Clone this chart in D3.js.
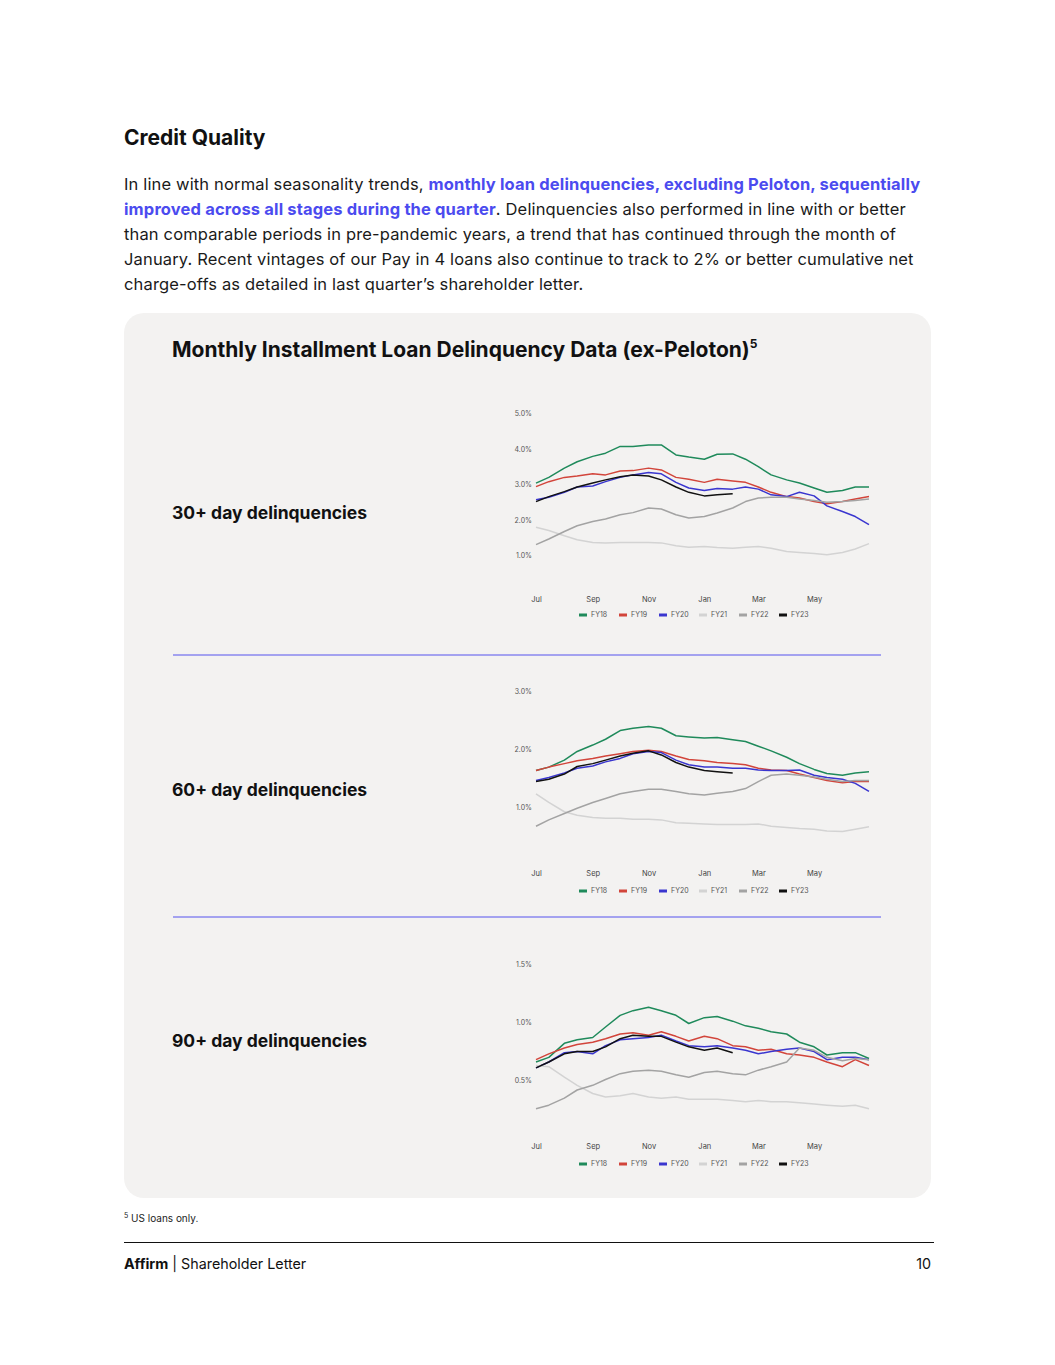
<!DOCTYPE html>
<html>
<head>
<meta charset="utf-8">
<script src="https://cdn.jsdelivr.net/npm/d3@7"></script>
<style>
  body { margin: 0; background: #fff; }
  svg text { font-family: Inter, "Noto Sans", sans-serif; }
</style>
</head>
<body>
<div id="page"></div>
<script>
/** Data (semi-monthly) **/
const dates = ['2021-07-01','2021-07-15','2021-08-01','2021-08-15','2021-09-01','2021-09-15',
               '2021-10-01','2021-10-15','2021-11-01','2021-11-15','2021-12-01','2021-12-15',
               '2022-01-01','2022-01-15','2022-02-01','2022-02-15','2022-03-01','2022-03-15',
               '2022-04-01','2022-04-15','2022-05-01','2022-05-15','2022-06-01','2022-06-15','2022-06-30'];

const seriesNames  = ['FY18', 'FY19', 'FY20', 'FY21', 'FY22', 'FY23'];
const seriesColors = ['#1f8a5b', '#d2453b', '#3a36cf', '#d3d3d3', '#a3a3a3', '#111111'];

// 30+ day delinquencies (%)
const d30_FY18 = [3.04,3.20,3.46,3.64,3.79,3.88,4.07,4.07,4.11,4.11,3.83,3.77,3.71,3.85,3.86,3.71,3.50,3.27,3.13,3.04,2.90,2.78,2.83,2.93,2.93];
const d30_FY19 = [2.94,3.08,3.20,3.24,3.30,3.27,3.38,3.39,3.46,3.41,3.20,3.15,3.06,3.15,3.10,3.06,2.93,2.78,2.66,2.62,2.52,2.46,2.52,2.59,2.66];
const d30_FY20 = [2.57,2.64,2.78,2.93,2.96,3.08,3.20,3.27,3.34,3.30,3.06,2.90,2.83,2.89,2.87,2.93,2.87,2.71,2.66,2.78,2.68,2.40,2.24,2.10,1.87];
const d30_FY21 = [1.80,1.71,1.56,1.45,1.37,1.36,1.37,1.37,1.37,1.36,1.28,1.24,1.26,1.23,1.21,1.24,1.26,1.21,1.12,1.09,1.06,1.03,1.09,1.19,1.34];
const d30_FY22 = [1.31,1.47,1.68,1.84,1.96,2.03,2.15,2.21,2.34,2.31,2.15,2.06,2.10,2.20,2.34,2.52,2.62,2.64,2.64,2.59,2.55,2.50,2.52,2.55,2.59];
const d30_FY23 = [2.52,2.66,2.80,2.93,3.04,3.13,3.22,3.27,3.24,3.13,2.93,2.78,2.68,2.71,2.74];

// 60+ day delinquencies (%)
const d60_FY18 = [1.64,1.70,1.82,1.97,2.08,2.18,2.33,2.37,2.40,2.37,2.24,2.22,2.20,2.21,2.17,2.14,2.06,1.98,1.87,1.76,1.66,1.59,1.56,1.60,1.62];
const d60_FY19 = [1.64,1.70,1.76,1.81,1.85,1.89,1.93,1.97,1.99,1.97,1.89,1.83,1.81,1.78,1.76,1.74,1.68,1.65,1.64,1.58,1.52,1.47,1.43,1.45,1.45];
const d60_FY20 = [1.47,1.52,1.60,1.68,1.72,1.79,1.85,1.93,1.97,1.95,1.82,1.74,1.70,1.70,1.68,1.68,1.65,1.64,1.64,1.65,1.56,1.52,1.49,1.42,1.28];
const d60_FY21 = [1.24,1.09,0.93,0.87,0.83,0.82,0.82,0.80,0.80,0.79,0.74,0.73,0.72,0.71,0.71,0.71,0.72,0.68,0.66,0.64,0.63,0.60,0.59,0.63,0.67];
const d60_FY22 = [0.68,0.79,0.90,0.99,1.09,1.16,1.24,1.28,1.32,1.32,1.28,1.24,1.22,1.25,1.28,1.33,1.45,1.56,1.58,1.56,1.53,1.49,1.45,1.47,1.47];
const d60_FY23 = [1.45,1.49,1.58,1.71,1.76,1.82,1.89,1.94,1.98,1.91,1.78,1.70,1.64,1.62,1.60];

// 90+ day delinquencies (%)
const d90_FY18 = [0.66,0.70,0.82,0.85,0.87,0.96,1.06,1.10,1.13,1.10,1.06,0.99,1.04,1.05,1.01,0.97,0.95,0.92,0.90,0.83,0.79,0.72,0.74,0.74,0.69];
const d90_FY19 = [0.68,0.73,0.78,0.81,0.83,0.86,0.90,0.91,0.89,0.92,0.88,0.84,0.88,0.86,0.80,0.79,0.76,0.77,0.73,0.72,0.70,0.66,0.62,0.68,0.63];
const d90_FY20 = [0.61,0.66,0.74,0.75,0.73,0.80,0.85,0.86,0.87,0.89,0.84,0.80,0.79,0.80,0.78,0.76,0.73,0.75,0.77,0.78,0.75,0.68,0.70,0.70,0.68];
const d90_FY21 = [0.63,0.62,0.53,0.46,0.39,0.36,0.37,0.39,0.36,0.35,0.36,0.34,0.34,0.34,0.33,0.32,0.33,0.32,0.32,0.31,0.30,0.29,0.28,0.29,0.26];
const d90_FY22 = [0.26,0.29,0.35,0.42,0.46,0.51,0.56,0.58,0.59,0.58,0.55,0.53,0.57,0.58,0.56,0.55,0.59,0.62,0.66,0.78,0.76,0.70,0.67,0.69,0.68];
const d90_FY23 = [0.61,0.66,0.73,0.75,0.75,0.79,0.86,0.89,0.88,0.88,0.83,0.79,0.76,0.78,0.74];

const yTicks30 = [1, 2, 3, 4, 5];
const yTicks60 = [1, 2, 3];
const yTicks90 = [0.5, 1.0, 1.5];


/** Page **/
const W = 1055, H = 1365;
const svg = d3.select('#page').append('svg').attr('width', W).attr('height', H);

svg.append('text').attr('x', 124).attr('y', 145)
    .attr('font-size', 21).attr('font-weight', 700).attr('fill', '#111')
    .text('Credit Quality');

const blue = '#4b4bef';
const para = [
  [['In line with normal seasonality trends, ', false], ['monthly loan delinquencies, excluding Peloton, sequentially', true]],
  [['improved across all stages during the quarter', true], ['. Delinquencies also performed in line with or better', false]],
  [['than comparable periods in pre-pandemic years, a trend that has continued through the month of', false]],
  [['January. Recent vintages of our Pay in 4 loans also continue to track to 2% or better cumulative net', false]],
  [['charge-offs as detailed in last quarter\u2019s shareholder letter.', false]]
];
para.forEach((line, i) => {
  const t = svg.append('text').attr('x', 124).attr('y', 190 + i * 25)
      .attr('font-size', 16.5).attr('fill', '#1a1a1a').attr('letter-spacing', 0.15);
  line.forEach(([s, b]) => {
    t.append('tspan').text(s)
      .attr('font-weight', b ? 700 : 400)
      .attr('fill', b ? blue : '#1a1a1a');
  });
});

/* panel */
svg.append('rect').attr('x', 124).attr('y', 313).attr('width', 807).attr('height', 885)
    .attr('rx', 20).attr('fill', '#f3f2f1');

const title = svg.append('text').attr('x', 172).attr('y', 357)
    .attr('font-size', 21).attr('font-weight', 700).attr('fill', '#111');
title.append('tspan').text('Monthly Installment Loan Delinquency Data (ex-Peloton)');
title.append('tspan').text('5').attr('font-size', 12).attr('dy', -9);

[655, 917].forEach(y => {
  svg.append('line').attr('x1', 173).attr('x2', 881).attr('y1', y).attr('y2', y)
      .attr('stroke', '#5552ee').attr('stroke-width', 1);
});

/* footnote + footer */
const fn = svg.append('text').attr('x', 124).attr('y', 1222).attr('font-size', 10).attr('fill', '#222');
fn.append('tspan').text('5').attr('font-size', 7).attr('dy', -4);
fn.append('tspan').text(' US loans only.').attr('dy', 4);

svg.append('line').attr('x1', 124).attr('x2', 934).attr('y1', 1242.5).attr('y2', 1242.5)
    .attr('stroke', '#111').attr('stroke-width', 1.2);
const ft = svg.append('text').attr('x', 124).attr('y', 1269).attr('font-size', 14.3).attr('fill', '#111');
ft.append('tspan').text('Affirm').attr('font-weight', 700);
ft.append('tspan').text(' | Shareholder Letter');
svg.append('text').attr('x', 931).attr('y', 1269).attr('font-size', 14.3).attr('fill', '#111')
    .attr('text-anchor', 'end').text('10');


/** Charts **/
const parse = d3.timeParse('%Y-%m-%d');
const xDates = dates.map(parse);

const x = d3.scaleTime()
    .domain([parse('2021-07-01'), parse('2022-06-30')])
    .range([536, 869]);

function drawChart(cfg){
  const g = svg.append('g');

  g.append('text').attr('x', 172).attr('y', cfg.labelY)
      .attr('font-size', 17.5).attr('font-weight', 700).attr('fill', '#111')
      .text(cfg.label);

  const y = d3.scaleLinear().domain([0, cfg.yMax]).range([cfg.y0, cfg.yTop]);

  /* y axis */
  const yAxis = d3.axisLeft(y).tickValues(cfg.ticks).tickSize(0).tickPadding(0)
      .tickFormat(d => d3.format('.1f')(d) + '%');
  const ya = g.append('g').attr('transform', 'translate(532,0)').call(yAxis);
  ya.select('.domain').remove();
  ya.selectAll('text')
      .attr('font-family', 'Roboto').attr('font-size', 7).attr('fill', '#555');

  /* x axis */
  const xAxis = d3.axisBottom(x).ticks(d3.timeMonth.every(2)).tickSize(0).tickPadding(0)
      .tickFormat(d3.timeFormat('%b'));
  const xa = g.append('g').attr('transform', `translate(0,${cfg.xLabY})`).call(xAxis);
  xa.select('.domain').remove();
  xa.selectAll('text').attr('font-family', 'Roboto').attr('font-size', 7.5).attr('fill', '#444')
      .attr('dy', '0.32em');

  /* lines */
  const line = d3.line()
      .x((d, i) => x(xDates[i]))
      .y(d => y(d));

  cfg.series.forEach((vals, i) => {
    g.append('path')
      .attr('d', line(vals))
      .attr('fill', 'none')
      .attr('stroke', seriesColors[i])
      .attr('stroke-width', 1.5)
      .attr('stroke-linejoin', 'round');
  });

  /* legend */
  const lg = g.append('g').attr('transform', `translate(579,${cfg.legY})`);
  seriesNames.forEach((name, i) => {
    const it = lg.append('g').attr('transform', `translate(${i * 40},0)`);
    it.append('rect').attr('x', 0).attr('y', -1.5).attr('width', 8).attr('height', 3)
        .attr('fill', seriesColors[i]);
    it.append('text').attr('x', 12).attr('y', 0).attr('dy', '0.35em')
        .attr('font-family', 'Roboto').attr('font-size', 7).attr('fill', '#555')
        .text(name);
  });
}

drawChart({
  label: '30+ day delinquencies', labelY: 519,
  yMax: 5, y0: 591.3, yTop: 413.3, ticks: yTicks30, xLabY: 600, legY: 615,
  series: [d30_FY18, d30_FY19, d30_FY20, d30_FY21, d30_FY22, d30_FY23]
});
drawChart({
  label: '60+ day delinquencies', labelY: 796,
  yMax: 3, y0: 865.7, yTop: 691.7, ticks: yTicks60, xLabY: 874, legY: 891,
  series: [d60_FY18, d60_FY19, d60_FY20, d60_FY21, d60_FY22, d60_FY23]
});
drawChart({
  label: '90+ day delinquencies', labelY: 1047,
  yMax: 1.5, y0: 1139, yTop: 964, ticks: yTicks90, xLabY: 1147, legY: 1164,
  series: [d90_FY18, d90_FY19, d90_FY20, d90_FY21, d90_FY22, d90_FY23]
});
</script>
</body>
</html>
